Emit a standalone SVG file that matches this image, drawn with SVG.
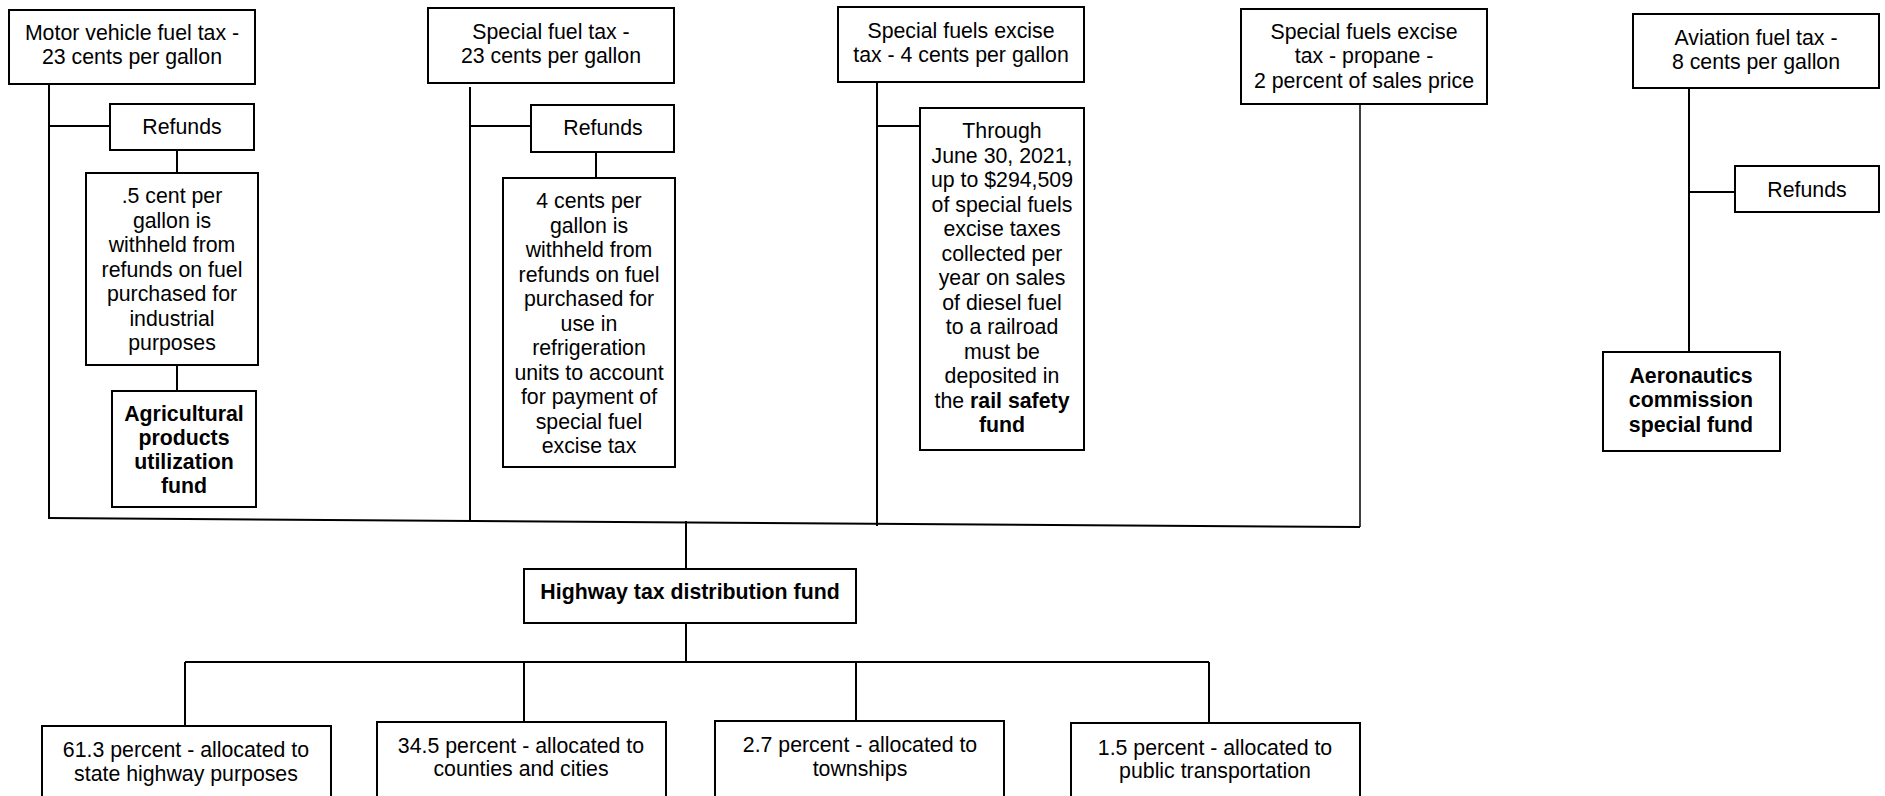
<svg xmlns="http://www.w3.org/2000/svg" width="1885" height="796" viewBox="0 0 1885 796">
<style>
.box{fill:#fff;stroke:#000;stroke-width:2}
.ln{fill:none;stroke:#000;stroke-width:2}
.thin{fill:none;stroke:#000;stroke-width:1.5}
text{font-family:"Liberation Sans",Arial,sans-serif;font-size:21.3px;fill:#000;text-anchor:middle}
.b{font-weight:bold}
</style>
<rect width="1885" height="796" fill="#fff"/>
<g id="connectors">
<path class="ln" d="M49,84V518M49,126H110M177,150V173M177,365V391"/>
<path class="ln" d="M470,87V520M470,126H531M596,152V178"/>
<path class="ln" d="M877,82V526M877,126H920"/>
<path class="thin" d="M1360,104V527"/>
<path class="ln" d="M48,518L1360,527"/>
<path class="ln" d="M1689,88V352M1689,192H1735"/>
<path class="ln" d="M686,521V569M686,623V662M185,662H1209M185,662V726M524,662V722M856,662V721M1209,662V723"/>
</g>
<g id="motor"><rect class="box" x="9" y="10" width="246" height="74"/><text x="132" y="40">Motor vehicle fuel tax -</text><text x="132" y="64">23 cents per gallon</text></g>
<g id="refunds1"><rect class="box" x="110" y="104" width="144" height="46"/><text x="182" y="134">Refunds</text></g>
<g id="withheld1"><rect class="box" x="86" y="173" width="172" height="192"/>
<text x="172" y="203">.5 cent per</text><text x="172" y="227.5">gallon is</text><text x="172" y="252">withheld from</text><text x="172" y="276.5">refunds on fuel</text><text x="172" y="301">purchased for</text><text x="172" y="325.5">industrial</text><text x="172" y="350">purposes</text></g>
<g id="agri"><rect class="box" x="112" y="391" width="144" height="116"/>
<text class="b" x="184" y="421">Agricultural</text><text class="b" x="184" y="445">products</text><text class="b" x="184" y="469">utilization</text><text class="b" x="184" y="493">fund</text></g>
<g id="specialfuel"><rect class="box" x="428" y="8" width="246" height="75"/><text x="551" y="39">Special fuel tax -</text><text x="551" y="63">23 cents per gallon</text></g>
<g id="refunds2"><rect class="box" x="531" y="105" width="143" height="47"/><text x="603" y="135">Refunds</text></g>
<g id="withheld2"><rect class="box" x="503" y="178" width="172" height="289"/>
<text x="589" y="208">4 cents per</text><text x="589" y="232.5">gallon is</text><text x="589" y="257">withheld from</text><text x="589" y="281.5">refunds on fuel</text><text x="589" y="306">purchased for</text><text x="589" y="330.5">use in</text><text x="589" y="355">refrigeration</text><text x="589" y="379.5">units to account</text><text x="589" y="404">for payment of</text><text x="589" y="428.5">special fuel</text><text x="589" y="453">excise tax</text></g>
<g id="excise"><rect class="box" x="838" y="7" width="246" height="75"/><text x="961" y="37.5">Special fuels excise</text><text x="961" y="62">tax - 4 cents per gallon</text></g>
<g id="rail"><rect class="box" x="920" y="108" width="164" height="342"/>
<text x="1002" y="138">Through</text><text x="1002" y="162.5">June 30, 2021,</text><text x="1002" y="187">up to $294,509</text><text x="1002" y="211.5">of special fuels</text><text x="1002" y="236">excise taxes</text><text x="1002" y="260.5">collected per</text><text x="1002" y="285">year on sales</text><text x="1002" y="309.5">of diesel fuel</text><text x="1002" y="334">to a railroad</text><text x="1002" y="358.5">must be</text><text x="1002" y="383">deposited in</text><text x="1002" y="407.5">the <tspan class="b">rail safety</tspan></text><text class="b" x="1002" y="432">fund</text></g>
<g id="propane"><rect class="box" x="1241" y="9" width="246" height="95"/><text x="1364" y="39">Special fuels excise</text><text x="1364" y="63">tax - propane -</text><text x="1364" y="88">2 percent of sales price</text></g>
<g id="aviation"><rect class="box" x="1633" y="14" width="246" height="74"/><text x="1756" y="45">Aviation fuel tax -</text><text x="1756" y="69">8 cents per gallon</text></g>
<g id="refunds3"><rect class="box" x="1735" y="166" width="144" height="46"/><text x="1807" y="197">Refunds</text></g>
<g id="aero"><rect class="box" x="1603" y="352" width="177" height="99"/><text class="b" x="1691" y="383">Aeronautics</text><text class="b" x="1691" y="407">commission</text><text class="b" x="1691" y="432">special fund</text></g>
<g id="highway"><rect class="box" x="524" y="569" width="332" height="54"/><text class="b" x="690" y="599">Highway tax distribution fund</text></g>
<g id="state"><rect class="box" x="42" y="726" width="289" height="90"/><text x="186" y="757">61.3 percent - allocated to</text><text x="186" y="781">state highway purposes</text></g>
<g id="counties"><rect class="box" x="377" y="722" width="289" height="90"/><text x="521" y="753">34.5 percent - allocated to</text><text x="521" y="776">counties and cities</text></g>
<g id="townships"><rect class="box" x="715" y="721" width="289" height="90"/><text x="860" y="752">2.7 percent - allocated to</text><text x="860" y="776">townships</text></g>
<g id="transit"><rect class="box" x="1071" y="723" width="289" height="90"/><text x="1215" y="755">1.5 percent - allocated to</text><text x="1215" y="778">public transportation</text></g>
</svg>
